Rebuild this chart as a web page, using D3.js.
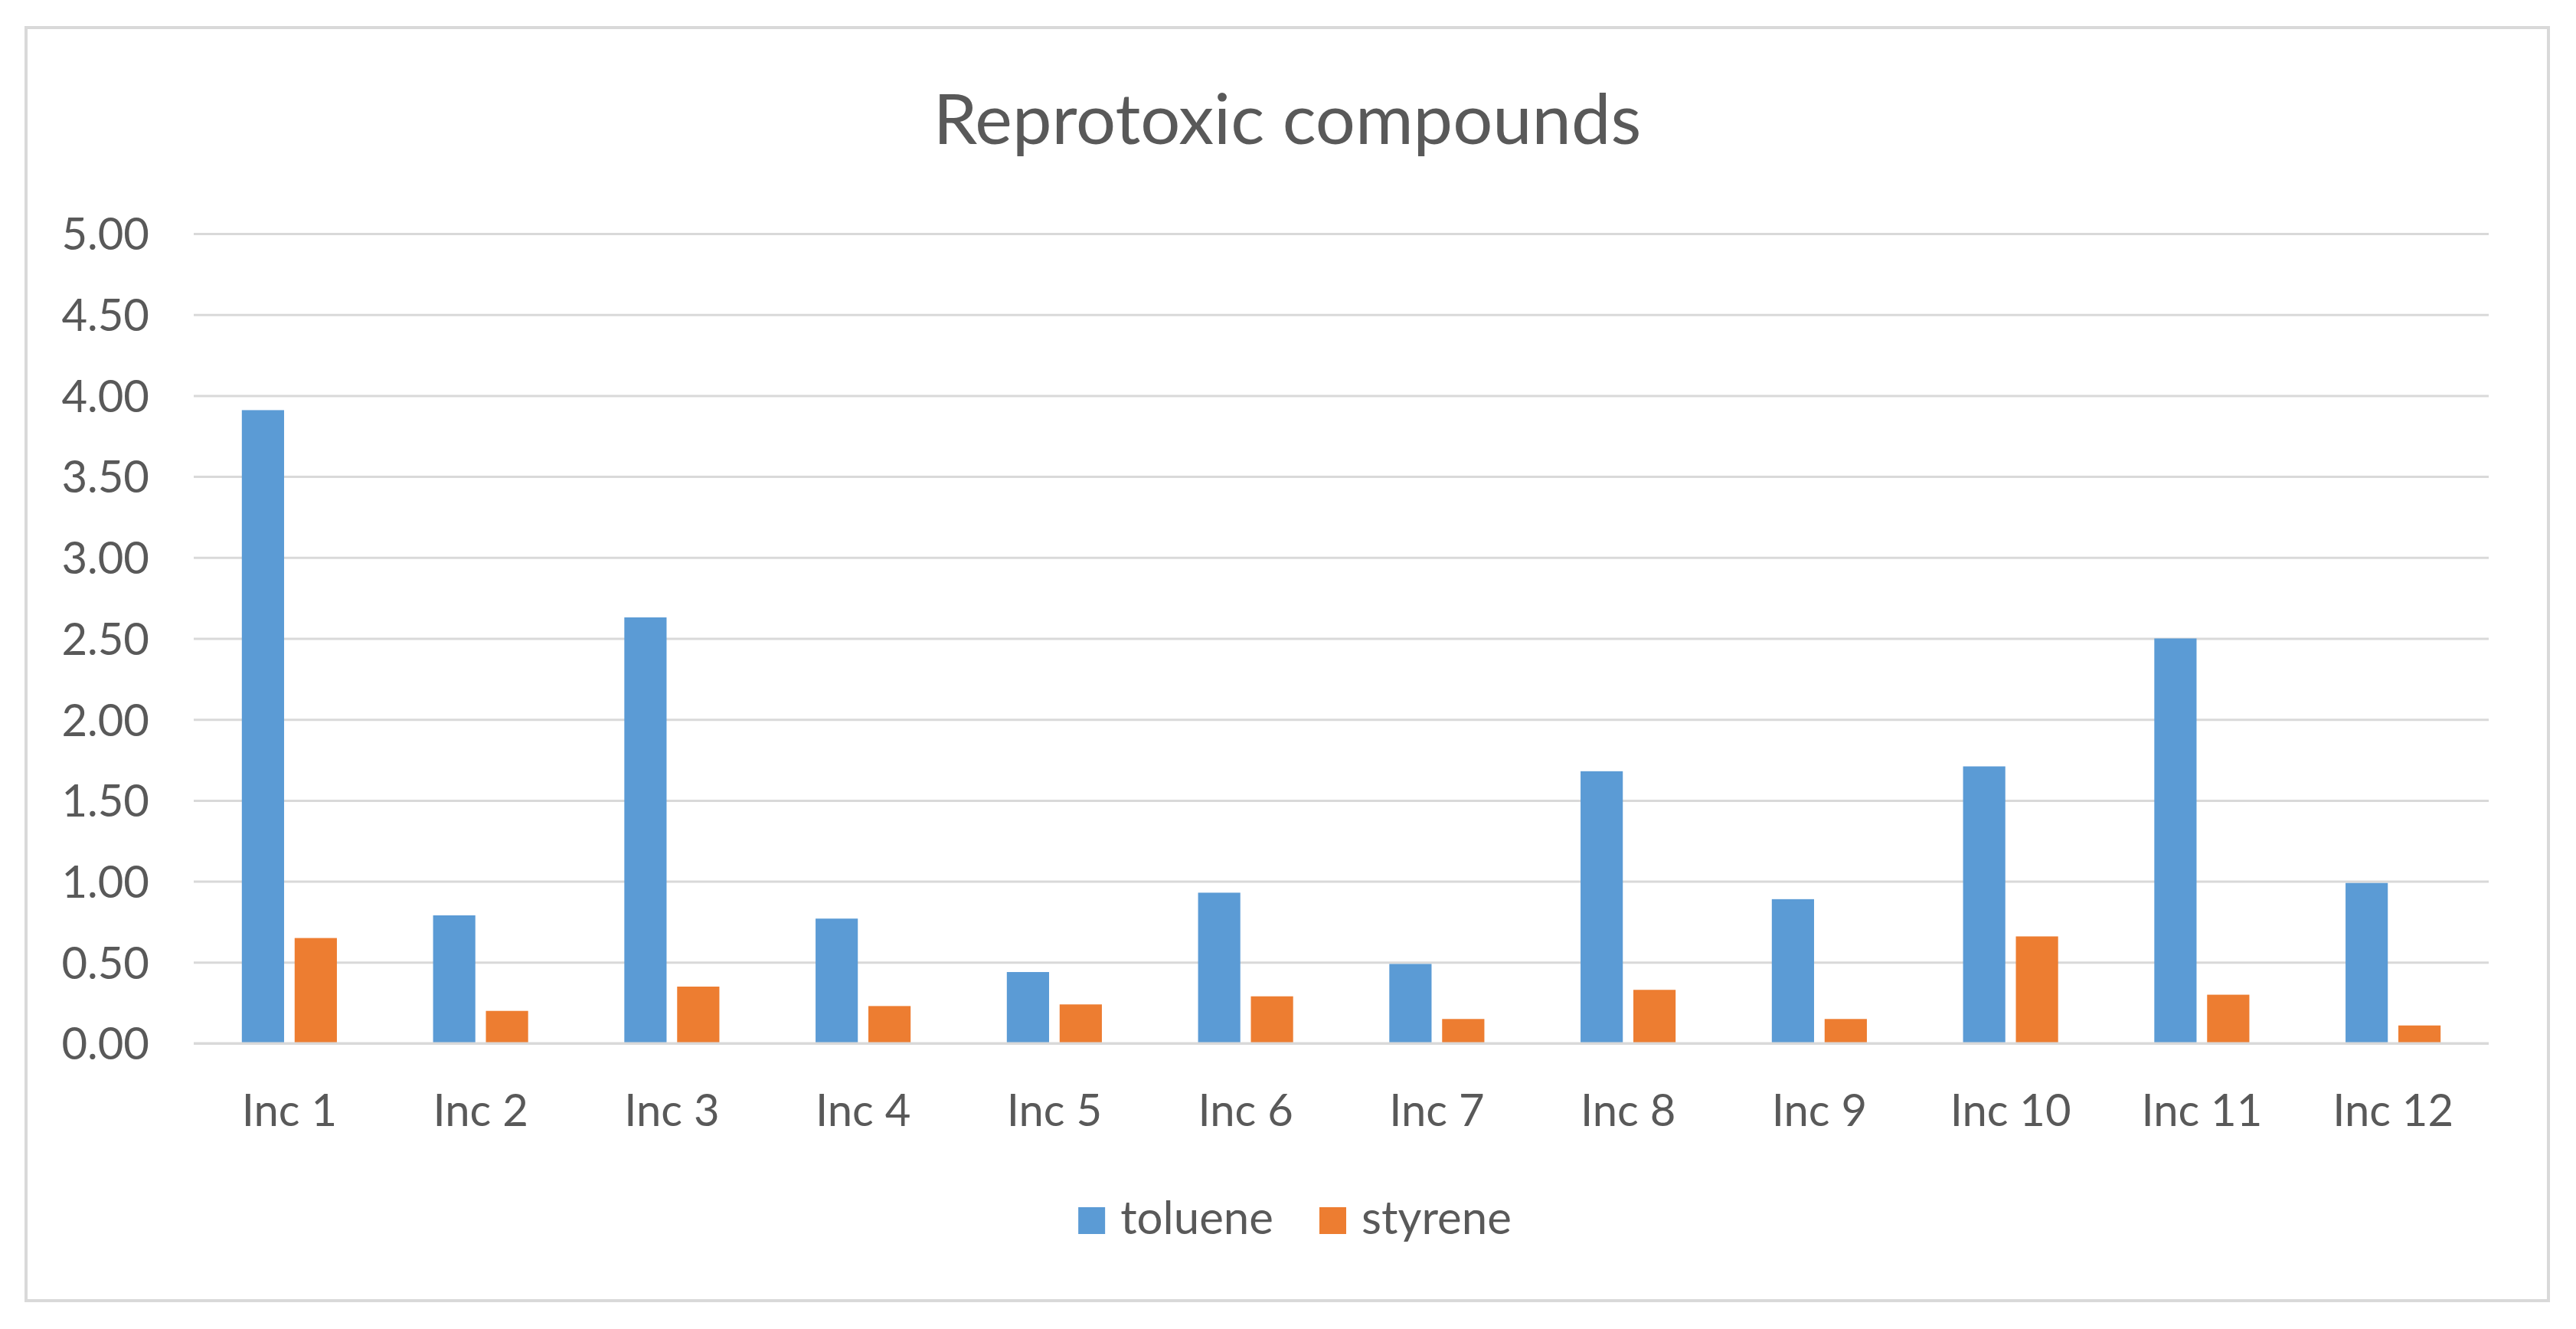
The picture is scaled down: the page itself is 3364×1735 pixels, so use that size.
<!DOCTYPE html>
<html>
<head>
<meta charset="utf-8">
<script src="https://cdn.jsdelivr.net/npm/d3@7"></script>
<style>
  html, body { margin: 0; padding: 0; background: #ffffff; }
  svg { display: block; }
  text { font-family: Lato, "Noto Sans", sans-serif; fill: #595959; }
</style>
</head>
<body>
<svg id="chart" width="3364" height="1735"></svg>
<script>
const title = "Reprotoxic compounds";
const categories = ["Inc 1","Inc 2","Inc 3","Inc 4","Inc 5","Inc 6","Inc 7","Inc 8","Inc 9","Inc 10","Inc 11","Inc 12"];
const seriesNames = ["toluene","styrene"];
const toluene = [3.91, 0.79, 2.63, 0.77, 0.44, 0.93, 0.49, 1.68, 0.89, 1.71, 2.50, 0.99];
const styrene = [0.65, 0.20, 0.35, 0.23, 0.24, 0.29, 0.15, 0.33, 0.15, 0.66, 0.30, 0.11];
const yTicks = [0, 0.5, 1, 1.5, 2, 2.5, 3, 3.5, 4, 4.5, 5];
const colors = ["#5B9BD5", "#ED7D31"];

const frame = {left: 34, top: 36, right: 3328, bottom: 1698};
const plot = {left: 253, right: 3250, top: 305, bottom: 1362};

const svg = d3.select("#chart");

svg.append("rect")
  .attr("x", frame.left).attr("y", frame.top)
  .attr("width", frame.right - frame.left).attr("height", frame.bottom - frame.top)
  .attr("fill", "#ffffff").attr("stroke", "#d9d9d9").attr("stroke-width", 4);

svg.append("text")
  .attr("x", (frame.left + frame.right) / 2).attr("y", 188)
  .attr("text-anchor", "middle")
  .style("font-size", "92px")
  .text(title);

const x0 = d3.scaleBand().domain(categories).range([plot.left, plot.right]).paddingInner(0).paddingOuter(0);
const groupW = x0.bandwidth() * 0.497;
const x1 = d3.scaleBand().domain(seriesNames).range([0, groupW]).paddingInner(0.2).paddingOuter(0);
const y = d3.scaleLinear().domain([0, 5]).range([plot.bottom, plot.top]);

// gridlines
const grid = svg.append("g")
  .attr("transform", `translate(${plot.left},0)`)
  .call(d3.axisLeft(y).tickValues(yTicks).tickSize(-(plot.right - plot.left)).tickFormat(""));
grid.select(".domain").remove();
grid.selectAll(".tick line").attr("stroke", "#d9d9d9").attr("stroke-width", 3);

// y labels
const yAxis = svg.append("g")
  .attr("transform", `translate(${plot.left - 58},0)`)
  .call(d3.axisLeft(y).tickValues(yTicks).tickSize(0).tickPadding(0).tickFormat(d3.format(".2f")));
yAxis.select(".domain").remove();
yAxis.selectAll(".tick text")
  .attr("dy", "0.36em")
  .style("font-size", "58px").style("font-family", "Lato, 'Noto Sans', sans-serif")
  .attr("fill", "#595959");

// bars
const data = categories.map((c, i) => ({cat: c, values: [toluene[i], styrene[i]]}));
const groups = svg.append("g").selectAll("g").data(data).join("g")
  .attr("transform", d => `translate(${x0(d.cat) + (x0.bandwidth() - groupW) / 2},0)`);
groups.selectAll("rect")
  .data(d => seriesNames.map((s, j) => ({s, v: d.values[j], j})))
  .join("rect")
  .attr("x", d => x1(d.s))
  .attr("width", x1.bandwidth())
  .attr("y", d => y(d.v))
  .attr("height", d => y(0) - y(d.v))
  .attr("fill", d => colors[d.j]);

// baseline
svg.append("line")
  .attr("x1", plot.left).attr("x2", plot.right)
  .attr("y1", y(0)).attr("y2", y(0))
  .attr("stroke", "#d9d9d9").attr("stroke-width", 3);

// x labels
const xAxis = svg.append("g")
  .attr("transform", `translate(0,${plot.bottom})`)
  .call(d3.axisBottom(x0).tickSize(0).tickPadding(0));
xAxis.select(".domain").remove();
xAxis.selectAll(".tick text")
  .attr("y", 108).attr("dy", 0)
  .style("font-size", "58px").style("font-family", "Lato, 'Noto Sans', sans-serif")
  .attr("fill", "#595959");

// legend
const legend = svg.append("g");
const sq = 35, gapText = 20, gapItem = 60;
let cx = 0;
seriesNames.forEach((s, i) => {
  const g = legend.append("g");
  g.append("rect").attr("x", 0).attr("y", -sq).attr("width", sq).attr("height", sq).attr("fill", colors[i]);
  const t = g.append("text").attr("x", sq + gapText).attr("y", 0).style("font-size", "60px").text(s);
  const w = sq + gapText + t.node().getComputedTextLength();
  g.attr("transform", `translate(${cx},0)`);
  cx += w + gapItem;
});
const totalW = cx - gapItem;
legend.attr("transform", `translate(${1691 - totalW / 2},1611)`);
</script>
</body>
</html>
